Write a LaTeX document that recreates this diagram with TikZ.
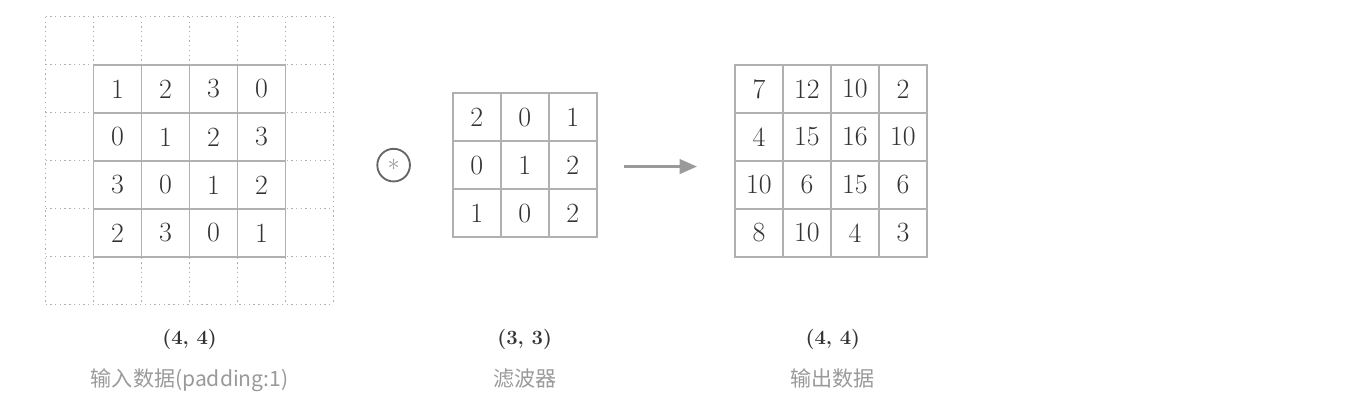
\documentclass[tikz,border=0pt]{standalone}
\usepackage{fontspec}
\newfontfamily\cjk{Noto Sans CJK SC}
\usepackage{tikz}
\usetikzlibrary{positioning}
\usetikzlibrary{arrows.meta}

\definecolor{gridgray}{HTML}{B0B0B0}
\definecolor{numgray}{HTML}{333333}
\definecolor{labelgray}{HTML}{9A9A9A}

\begin{document}
\begin{tikzpicture}[node distance=0.3cm,
	cell/.style={draw=gridgray,line width=1pt,fill=white,minimum size=1cm,inner sep=0pt,
		text=numgray,font=\fontsize{16.5}{16.5}\selectfont},
	pad line/.style={draw=gridgray,line width=0.8pt,dotted},
	dim label/.style={inner sep=1pt,text=numgray,font=\fontsize{12}{12}\selectfont\bfseries},
	name label/.style={inner sep=1pt,text=labelgray,font=\cjk\fontsize{12.5}{12.5}\selectfont},
	op node/.style={circle,draw=numgray!75,line width=1.1pt,minimum size=0.68cm,inner sep=0pt,
		text=labelgray,font=\Large}]
	
	\useasboundingbox (0,0) rectangle (28.04,-8.375);
	
	% padding grid
	\foreach \k in {0,...,6} {
		\draw[pad line] (0.95+\k,-0.35) -- (0.95+\k,-6.35);
		\draw[pad line] (0.95,-0.35-\k) -- (6.95,-0.35-\k);
	}
	
	% input data
	\foreach \vals [count=\r] in {{1,2,3,0},{0,1,2,3},{3,0,1,2},{2,3,0,1}}
		\foreach \v [count=\c] in \vals
			\node[cell] (in-\r-\c) at (1.45+\c,-0.85-\r) {\v};
	
	% filter
	\foreach \vals [count=\r] in {{2,0,1},{0,1,2},{1,0,2}}
		\foreach \v [count=\c] in \vals
			\node[cell] (flt-\r-\c) at (8.93+\c,-1.44-\r) {\v};
	
	% output data
	\foreach \vals [count=\r] in {{7,12,10,2},{4,15,16,10},{10,6,15,6},{8,10,4,3}}
		\foreach \v [count=\c] in \vals
			\node[cell] (out-\r-\c) at (14.81+\c,-0.85-\r) {\v};
	
	\node[op node] (op) at (8.2,-3.44) {$\ast$};
	
	\coordinate (arr-s) at (13.0,-3.47);
	\coordinate (arr-e) at (14.52,-3.47);
	\draw[-{Triangle[length=0.36cm,width=0.3cm]},line width=1.6pt,labelgray] (arr-s) -- (arr-e);
	
	% labels
	\node[dim label] (in-dim) at (3.95,-7.08) {(4, 4)};
	\node[name label] (in-name) [below=of in-dim] {输入数据(padding:1)};
	\node[dim label] (flt-dim) at (10.93,-7.08) {(3, 3)};
	\node[name label] (flt-name) [below=of flt-dim] {滤波器};
	\node[dim label] (out-dim) at (17.35,-7.08) {(4, 4)};
	\node[name label] (out-name) [below=of out-dim] {输出数据};
\end{tikzpicture}
\end{document}
